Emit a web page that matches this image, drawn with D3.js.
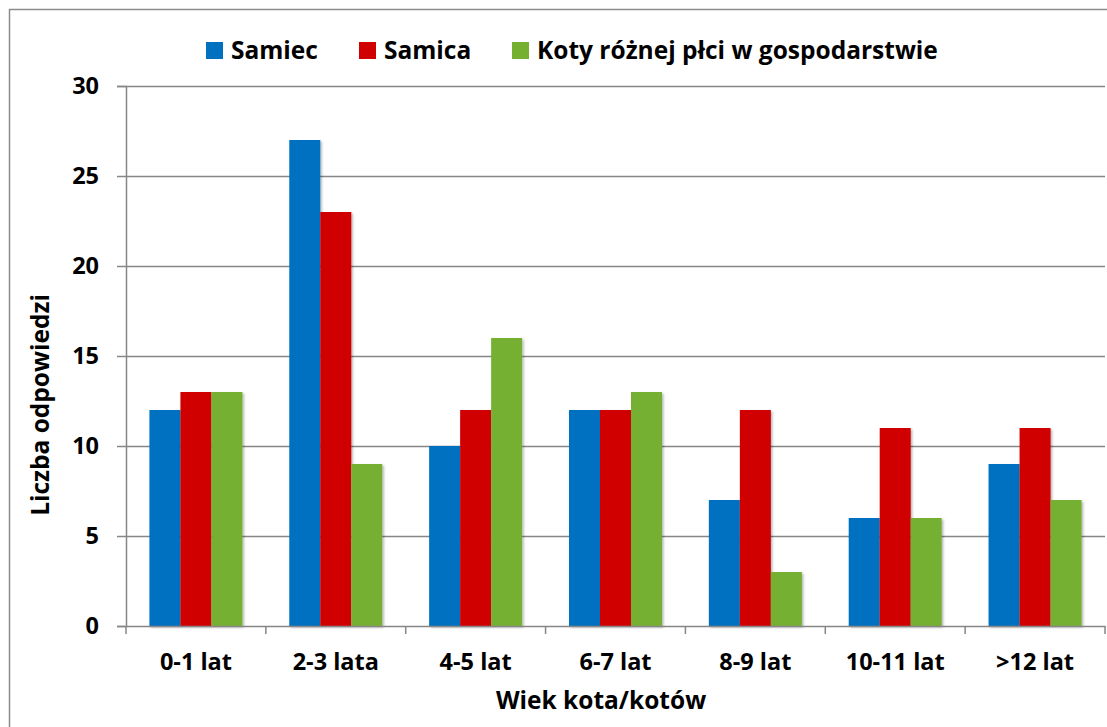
<!DOCTYPE html>
<html><head><meta charset="utf-8">
<script src="https://cdn.jsdelivr.net/npm/d3@7"></script>
<style>
body{margin:0;background:#fff;}
text{font-family:"Open Sans",Lato,sans-serif;font-weight:bold;fill:#000;}
</style></head>
<body><svg id="c" width="1107" height="727"></svg>
<script>
const categories = ["0-1 lat","2-3 lata","4-5 lat","6-7 lat","8-9 lat","10-11 lat",">12 lat"];
const seriesNames = ["Samiec","Samica","Koty różnej płci w gospodarstwie"];
const samiec = [12,27,10,12,7,6,9];
const samica = [13,23,12,12,12,11,11];
const koty = [13,9,16,13,3,6,7];
const yTicks = [0,5,10,15,20,25,30];
const colors = ["#0070C0","#D00000","#76B031"];
const seriesValues = [samiec, samica, koty];

const svg = d3.select("#c");
const L = 126, R = 1105, T = 86, B = 626;
const FS = "23.5px";

svg.append("rect").attr("x",9.5).attr("y",9.5).attr("width",1107).attr("height",727)
  .attr("fill","none").attr("stroke","#8c8c8c").attr("stroke-width",1.5);

const defs = svg.append("defs");
const f = defs.append("filter").attr("id","sh").attr("x","-10%").attr("y","-10%").attr("width","130%").attr("height","130%");
f.append("feDropShadow").attr("dx",1.5).attr("dy",1.5).attr("stdDeviation",1.2).attr("flood-color","#000").attr("flood-opacity",0.3);

const y = d3.scaleLinear().domain([0,30]).range([B,T]);
const x0 = d3.scaleBand().domain(categories).range([L,R]).paddingInner(0.335).paddingOuter(0.1675);
const x1 = d3.scaleBand().domain(d3.range(3)).range([0,x0.bandwidth()]);

// gridlines
svg.append("g").selectAll("line").data(yTicks.filter(d=>d>0)).join("line")
  .attr("x1",L).attr("x2",R).attr("y1",d=>y(d)+0.5).attr("y2",d=>y(d)+0.5)
  .attr("stroke","#868686").attr("stroke-width",1.5);

// bars
const g = svg.append("g");
categories.forEach((c,i)=>{
  seriesValues.forEach((vals,s)=>{
    g.append("rect").attr("x",x0(c)+x1(s)).attr("width",x1.bandwidth())
      .attr("y",y(vals[i])).attr("height",y(0)-y(vals[i]))
      .attr("fill",colors[s]).attr("filter","url(#sh)");
  });
});

// y axis
const ya = svg.append("g").attr("transform",`translate(${L},0)`)
  .call(d3.axisLeft(y).tickValues(yTicks).tickSize(9).tickPadding(18));
ya.select(".domain").attr("stroke","#868686").attr("stroke-width",1.5);
ya.selectAll(".tick line").attr("stroke","#868686").attr("stroke-width",1.5);
ya.selectAll(".tick text").style("font-size",FS).attr("font-family",null);

// x axis
const xa = svg.append("g").attr("transform",`translate(0,${B})`)
  .call(d3.axisBottom(x0).tickSize(0).tickPadding(27));
xa.select(".domain").attr("stroke","#868686").attr("stroke-width",1.5);
xa.selectAll(".tick text").style("font-size",FS).attr("font-family",null).attr("dy","0.71em");
// category boundary ticks
const bounds = d3.range(categories.length+1).map(i=>L+i*x0.step());
svg.append("g").selectAll("line").data(bounds).join("line")
  .attr("x1",d=>d).attr("x2",d=>d).attr("y1",B).attr("y2",B+8)
  .attr("stroke","#868686").attr("stroke-width",1.5);

// axis titles
svg.append("text").attr("x",601).attr("y",709).attr("text-anchor","middle")
  .style("font-size","24.5px").text("Wiek kota/kotów");
svg.append("text").attr("transform","translate(49,405) rotate(-90)").attr("text-anchor","middle")
  .style("font-size","24.5px").text("Liczba odpowiedzi");

// legend
const legX = [206, 359, 512];
const leg = svg.append("g");
seriesNames.forEach((n,i)=>{
  leg.append("rect").attr("x",legX[i]).attr("y",42).attr("width",17).attr("height",17).attr("fill",colors[i]);
  leg.append("text").attr("x",legX[i]+25).attr("y",59).style("font-size","24.5px").text(n);
});
</script></body></html>
